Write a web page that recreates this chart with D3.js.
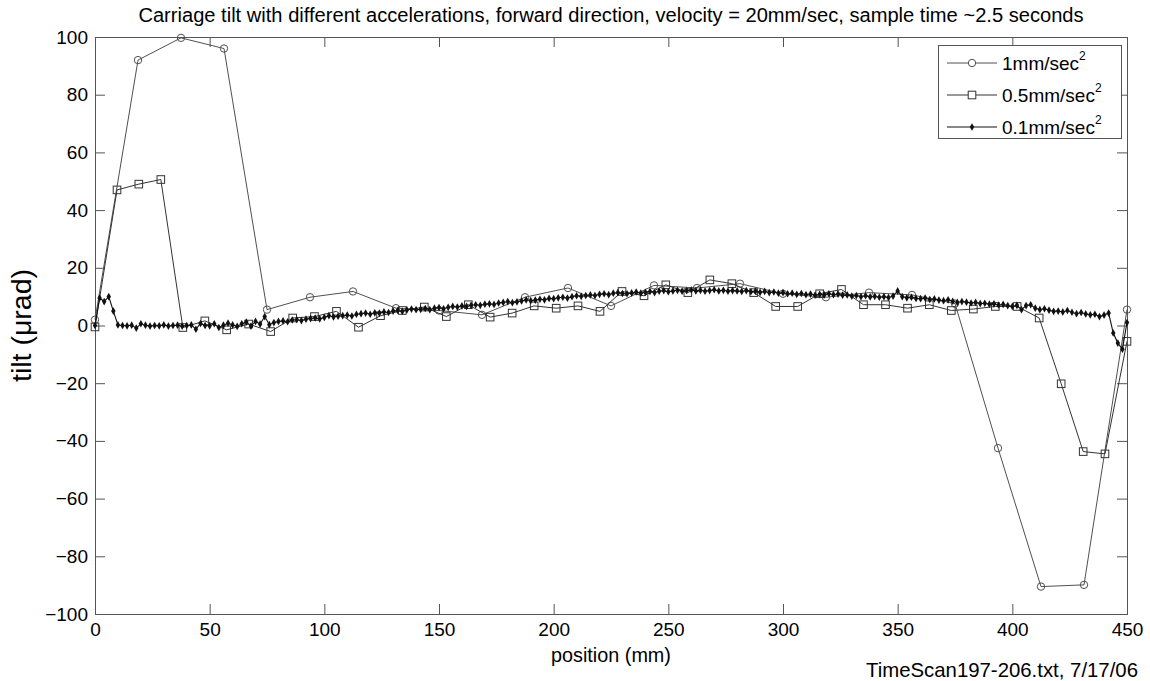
<!DOCTYPE html>
<html>
<head>
<meta charset="utf-8">
<script src="https://cdn.jsdelivr.net/npm/d3@7/dist/d3.min.js"></script>
<style>
  html, body { margin: 0; padding: 0; background: #fff; }
  svg { display: block; font-family: "Liberation Sans", Arial, Helvetica, sans-serif; }
</style>
</head>
<body>
<svg id="chart" width="1150" height="681"></svg>
<script>
// ---------------- data ----------------
const titleText = "Carriage tilt with different accelerations, forward direction, velocity = 20mm/sec, sample time ~2.5 seconds";
const xLabelText = "position (mm)";
const yLabelText = "tilt (\u03BCrad)";
const footerText = "TimeScan197-206.txt, 7/17/06";

const xTicks = [0, 50, 100, 150, 200, 250, 300, 350, 400, 450];
const yTicks = [-100, -80, -60, -40, -20, 0, 20, 40, 60, 80, 100];

const seriesNames = ["1mm/sec", "0.5mm/sec", "0.1mm/sec"];

// 1 mm/sec^2 (circles)
const accel1X = [0, 18.75, 37.5, 56.25, 75, 93.75, 112.5, 131.25, 150, 168.75, 187.5, 206.25,
  225, 243.75, 262.5, 281.25, 300, 318.75, 337.5, 356.25, 375, 393.75, 412.5, 431.25, 450];
const accel1Y = [2, 92, 99.7, 96, 5.5, 9.8, 11.8, 6, 5.2, 3.7, 9.8, 13, 6.8, 13.9, 13, 14.5,
  11, 9.8, 11.4, 10.6, 7.6, -42.5, -90.5, -89.9, 5.5];

// 0.5 mm/sec^2 (squares)
const accel05X = [0, 9.6, 19.1, 28.7, 38.3, 47.9, 57.4, 67.0, 76.6, 86.2, 95.7, 105.3,
  114.9, 124.5, 134.0, 143.6, 153.2, 162.8, 172.3, 181.9, 191.5, 201.1, 210.6, 220.2,
  229.8, 239.4, 248.9, 258.5, 268.1, 277.7, 287.2, 296.8, 306.4, 316.0, 325.5, 335.1,
  344.7, 354.3, 363.8, 373.4, 383.0, 392.6, 402.1, 411.7, 421.3, 430.9, 440.4, 450];
const accel05Y = [-0.5, 47, 49, 50.6, -0.7, 1.6, -1.5, 0.5, -2.1, 2.6, 3.1, 4.9,
  -0.6, 3.4, 5.2, 6.4, 3.1, 7.2, 2.9, 4.3, 6.8, 6.0, 6.8, 4.9,
  11.8, 10.3, 14.1, 11.4, 15.8, 14.5, 11.4, 6.6, 6.6, 11, 12.5, 7.2,
  7.2, 6, 7.2, 5.2, 5.7, 6.6, 6.6, 2.6, -20.2, -43.7, -44.5, -5.5];

// 0.1 mm/sec^2 (dots), sampled every 2 mm from 0 to 450
const accel01Step = 2;
const accel01Y = [
  0, 9.5, 8.3, 10, 5, 0.2, 0, -0.1, 0.1, -0.9,
  0.6, 0.1, -0.2, 0, -0.1, 0.2, -0.2, 0, 0.1, -0.2,
  0, 0.2, -1.3, 0.7, 0, -0.1, 0.6, -0.7, 0.1, 0.8,
  0.2, -0.3, 0.6, 1.2, -0.2, 1.4, 0.5, 3.1, 0.3, 1.0,
  1.4, 1.6, 1.3, 1.9, 2.0, 1.7, 2.2, 2.4, 2.6, 2.3,
  2.8, 3.4, 3.0, 3.2, 3.4, 3.6, 3.3, 3.9, 4.1, 4.3,
  3.9, 4.4, 4.3, 4.7, 4.5, 5.0, 5.2, 4.9, 5.4, 5.7,
  5.5, 5.6, 5.9, 5.5, 6.0, 6.2, 5.8, 6.3, 6.6, 6.4,
  6.8, 6.6, 7.0, 7.2, 7.0, 7.4, 7.5, 7.3, 7.8, 8.0,
  8.3, 7.9, 8.2, 8.5, 8.9, 8.6, 8.8, 9.1, 8.9, 9.4,
  9.3, 9.6, 9.8, 9.5, 10.0, 10.3, 10.1, 10.4, 10.6, 10.4,
  10.8, 11.0, 10.7, 11.2, 11.4, 11.1, 11.0, 11.3, 11.6, 11.2,
  11.5, 11.8, 11.4, 11.9, 12.1, 11.7, 12.0, 12.2, 11.9, 12.1,
  12.3, 12.0, 12.2, 11.9, 12.1, 12.4, 12.0, 12.2, 11.9, 12.1,
  12.0, 11.8, 12.1, 11.7, 11.9, 11.5, 11.8, 11.4, 11.6, 11.2,
  11.4, 11.0, 11.2, 10.8, 11.1, 10.7, 10.9, 10.5, 10.8, 10.6,
  11.0, 10.7, 10.9, 10.5, 10.6, 10.2, 10.4, 10.0, 10.3, 9.9,
  10.1, 9.8, 10.0, 9.7, 10.2, 12.0, 10.0, 9.6, 9.8, 9.4,
  9.3, 9.5, 9.0, 9.2, 8.8, 8.6, 8.9, 8.4, 8.0, 8.3,
  8.1, 7.8, 8.0, 7.6, 7.7, 7.4, 7.5, 7.1, 7.3, 6.9,
  6.6, 7.0, 5.5, 6.9, 7.2, 6.0, 5.5, 5.8, 5.3, 4.9,
  5.0, 4.7, 5.2, 4.6, 4.1, 4.5, 4.0, 3.7, 3.9, 3.1,
  3.6, 4.3, -2.6, -6.1, -8.2, 1.0
];
const accel01X = accel01Y.map((_, i) => i * accel01Step);

// ---------------- layout ----------------
const svg = d3.select("#chart");
const plot = { left: 95, right: 1127, top: 37, bottom: 614 };
const axisColor = "#555";
const colors = ["#505050", "#333333", "#111111"];

const x = d3.scaleLinear().domain([0, 450]).range([plot.left, plot.right]);
const y = d3.scaleLinear().domain([-100, 100]).range([plot.bottom, plot.top]);

function styleAxis(g) {
  g.select(".domain").remove();
  g.selectAll(".tick line").attr("stroke", axisColor).attr("stroke-width", 1);
  g.selectAll(".tick text").attr("fill", "#000").style("font-size", "19px")
    .style("font-family", '"Liberation Sans", Arial, sans-serif');
}

svg.append("g").attr("transform", `translate(0,${plot.bottom})`)
  .call(d3.axisBottom(x).tickValues(xTicks).tickSize(-10).tickPadding(9).tickFormat(d3.format("d")))
  .call(styleAxis);
svg.append("g").attr("transform", `translate(0,${plot.top})`)
  .call(d3.axisTop(x).tickValues(xTicks).tickSize(-10).tickFormat(""))
  .call(styleAxis);
svg.append("g").attr("transform", `translate(${plot.left},0)`)
  .call(d3.axisLeft(y).tickValues(yTicks).tickSize(-10).tickPadding(7).tickFormat(d3.format("d")))
  .call(styleAxis);
svg.append("g").attr("transform", `translate(${plot.right},0)`)
  .call(d3.axisRight(y).tickValues(yTicks).tickSize(-10).tickFormat(""))
  .call(styleAxis);

svg.append("rect")
  .attr("x", plot.left + 0.5).attr("y", plot.top + 0.5)
  .attr("width", plot.right - plot.left).attr("height", plot.bottom - plot.top)
  .attr("fill", "none").attr("stroke", axisColor).attr("stroke-width", 1);

// ---------------- series ----------------
const line = d3.line().x(d => x(d[0])).y(d => y(d[1]));
const s1 = accel1X.map((v, i) => [v, accel1Y[i]]);
const s2 = accel05X.map((v, i) => [v, accel05Y[i]]);
const s3 = accel01X.map((v, i) => [v, accel01Y[i]]);

const plotG = svg.append("g");

// circles series
plotG.append("path").datum(s1).attr("d", line)
  .attr("fill", "none").attr("stroke", colors[0]).attr("stroke-width", 1);
plotG.append("g").selectAll("circle").data(s1).join("circle")
  .attr("cx", d => x(d[0])).attr("cy", d => y(d[1])).attr("r", 3.7)
  .attr("fill", "none").attr("stroke", colors[0]).attr("stroke-width", 1);

// squares series
const sq = 7.6;
plotG.append("path").datum(s2).attr("d", line)
  .attr("fill", "none").attr("stroke", colors[1]).attr("stroke-width", 1);
plotG.append("g").selectAll("rect").data(s2).join("rect")
  .attr("x", d => x(d[0]) - sq / 2).attr("y", d => y(d[1]) - sq / 2)
  .attr("width", sq).attr("height", sq)
  .attr("fill", "none").attr("stroke", colors[1]).attr("stroke-width", 1);

// dots series
const diamond = d3.symbol().type(d3.symbolDiamond).size(17);
plotG.append("path").datum(s3).attr("d", line)
  .attr("fill", "none").attr("stroke", colors[2]).attr("stroke-width", 1.1);
plotG.append("g").selectAll("path").data(s3).join("path")
  .attr("d", diamond)
  .attr("transform", d => `translate(${x(d[0])},${y(d[1])})`)
  .attr("fill", colors[2]);

// ---------------- texts ----------------
function fitFont(sel, targetWidth, base) {
  sel.style("font-size", base + "px");
  const w = sel.node().getComputedTextLength();
  sel.style("font-size", (base * targetWidth / w).toFixed(2) + "px");
}

const title = svg.append("text")
  .attr("x", (plot.left + plot.right) / 2).attr("y", 22)
  .attr("text-anchor", "middle").attr("fill", "#000").text(titleText);
fitFont(title, 946, 17);

const xl = svg.append("text")
  .attr("x", (plot.left + plot.right) / 2).attr("y", 662)
  .attr("text-anchor", "middle").attr("fill", "#000").text(xLabelText);
fitFont(xl, 120, 18);

const yl = svg.append("text")
  .attr("transform", `translate(31,${(plot.top + plot.bottom) / 2}) rotate(-90)`)
  .attr("text-anchor", "middle").attr("fill", "#000").text(yLabelText);
fitFont(yl, 113, 22);

const ft = svg.append("text")
  .attr("x", 1138).attr("y", 677)
  .attr("text-anchor", "end").attr("fill", "#000").text(footerText);
fitFont(ft, 272, 16);

// ---------------- legend ----------------
const legend = svg.append("g");
legend.append("rect").attr("x", 938.5).attr("y", 45.5).attr("width", 183).attr("height", 93)
  .attr("fill", "#fff").attr("stroke", axisColor).attr("stroke-width", 1);
const rowY = [63, 95, 127];
seriesNames.forEach((name, i) => {
  const ry = rowY[i];
  legend.append("line").attr("x1", 947).attr("x2", 997).attr("y1", ry).attr("y2", ry)
    .attr("stroke", colors[i]).attr("stroke-width", 1);
  if (i === 0) {
    legend.append("circle").attr("cx", 972).attr("cy", ry).attr("r", 3.7)
      .attr("fill", "#fff").attr("stroke", colors[0]);
  } else if (i === 1) {
    legend.append("rect").attr("x", 972 - sq / 2).attr("y", ry - sq / 2).attr("width", sq).attr("height", sq)
      .attr("fill", "#fff").attr("stroke", colors[1]);
  } else {
    legend.append("path").attr("d", diamond).attr("transform", `translate(972,${ry})`).attr("fill", colors[2]);
  }
  const t = legend.append("text").attr("x", 1002).attr("y", ry + 6.5).attr("fill", "#000")
    .style("font-size", "19px");
  t.append("tspan").text(name);
  t.append("tspan").attr("dy", -10).style("font-size", "12px").text("2");
});
</script>
</body>
</html>
